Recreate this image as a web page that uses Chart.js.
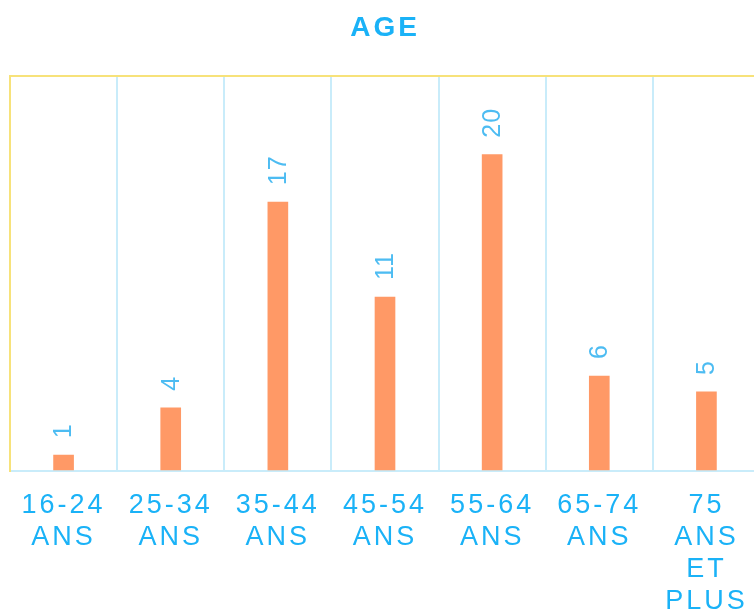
<!DOCTYPE html>
<html>
<head>
<meta charset="utf-8">
<script src="https://cdn.jsdelivr.net/npm/chart.js@4"></script>
<style>
  body { margin: 0; overflow: hidden; background: #fff; }
  #box { width: 780px; height: 640px; position: relative; }
</style>
</head>
<body>
<div id="box"><canvas id="myChart"></canvas></div>
<script>
const categories = [
    ['16-24', 'ANS'],
    ['25-34', 'ANS'],
    ['35-44', 'ANS'],
    ['45-54', 'ANS'],
    ['55-64', 'ANS'],
    ['65-74', 'ANS'],
    ['75', 'ANS', 'ET', 'PLUS']
]
const valeurs = [1, 4, 17, 11, 20, 6, 5]
const yMax = 25

const bleu = '#1ab2f7'
const bleuClair = '#4dbcf2'
const orange = '#ff9966'
const jaune = '#f7e27a'
const grille = '#c9ecfa'

const ctx = document.getElementById('myChart')

// etiquettes de valeur verticales au-dessus des barres
const etiquettes = {
    id: 'etiquettes',
    afterDatasetsDraw(chart) {
        const c = chart.ctx
        const meta = chart.getDatasetMeta(0)
        c.save()
        c.fillStyle = bleuClair
        c.font = '25px "Liberation Sans", Arial, sans-serif'
        c.letterSpacing = '1px'
        c.textAlign = 'left'
        c.textBaseline = 'middle'
        meta.data.forEach((bar, i) => {
            c.save()
            c.translate(bar.x, bar.y - 17)
            c.rotate(-Math.PI / 2)
            c.fillText(String(valeurs[i]), 0, 1)
            c.restore()
        })
        c.restore()
    }
}

const espacement = {
    id: 'espacement',
    beforeDraw(chart) { chart.ctx.letterSpacing = '3px' }
}

new Chart(ctx, {
    type: 'bar',
    data: {
        labels: categories,
        datasets: [{
            label: 'Age',
            data: valeurs,
            backgroundColor: orange,
            barThickness: 20
        }]
    },
    options: {
        responsive: true,
        maintainAspectRatio: false,
        animation: false,
        layout: { padding: { left: 10, right: 20, top: 0, bottom: 3 } },
        plugins: {
            legend: { display: false },
            tooltip: { enabled: false },
            title: {
                display: true,
                text: 'AGE',
                color: bleu,
                font: { family: '"Liberation Sans", Arial, sans-serif', size: 28, weight: 'bold', lineHeight: 1.2 },
                padding: { top: 11, bottom: 31 }
            }
        },
        scales: {
            x: {
                grid: { color: grille, lineWidth: 2, drawTicks: false },
                border: { color: grille, width: 2 },
                ticks: {
                    color: bleu,
                    padding: 19,
                    maxRotation: 0,
                    autoSkip: false,
                    font: { family: '"Liberation Sans", Arial, sans-serif', size: 27, lineHeight: '32px' }
                }
            },
            y: {
                min: 0,
                max: yMax,
                ticks: { display: false, stepSize: 5 },
                grid: {
                    drawTicks: false,
                    lineWidth: 2,
                    color: c => c.tick && c.tick.value === yMax ? jaune : 'rgba(0,0,0,0)'
                },
                border: { color: jaune, width: 2 }
            }
        }
    },
    plugins: [espacement, etiquettes]
})
</script>
</body>
</html>
